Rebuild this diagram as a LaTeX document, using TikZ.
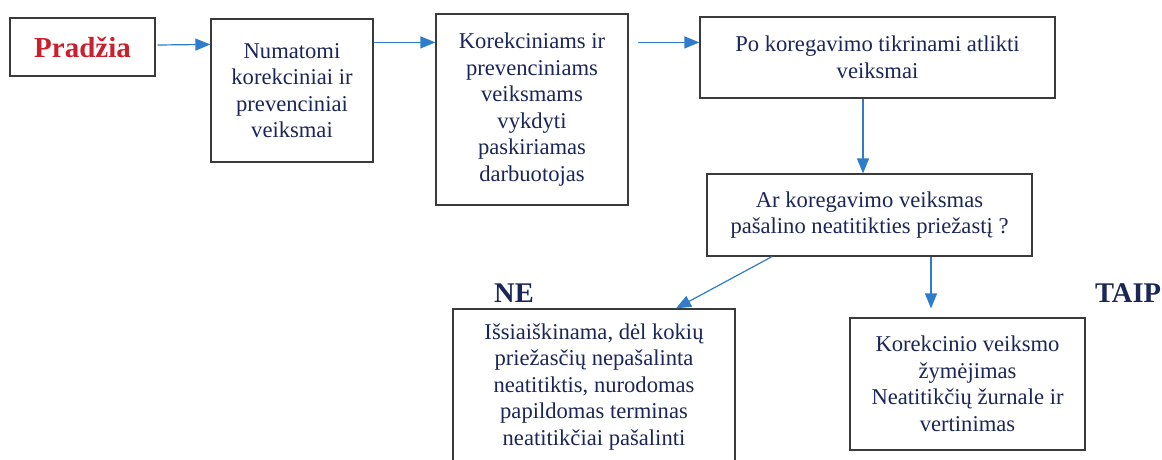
\documentclass[tikz,border=0pt]{standalone}
\usepackage{fontspec}
\setmainfont{Liberation Serif}
\usepackage{xcolor}
\usepackage{tikz}
\usetikzlibrary{shapes.geometric, arrows.meta}
\definecolor{inkblue}{HTML}{1B2658}
\definecolor{arrowblue}{HTML}{2F7CCB}
\definecolor{startred}{HTML}{CC1F2D}
\definecolor{boxgray}{HTML}{3A3A3A}
\tikzstyle{startstop} = [rectangle, 
draw=boxgray, 
line width=1.2pt, 
text centered, 
font=\bfseries\fontsize{29}{34}\selectfont, 
text=startred]
\tikzstyle{process} = [rectangle, 
draw=boxgray, 
line width=1.2pt, 
align=center, 
inner sep=0pt, 
font=\fontsize{22.6}{26.5}\selectfont, 
text=inkblue]
\tikzstyle{arrow} = [line width=1.2pt, draw=arrowblue, 
-{Triangle[length=15pt,width=12pt,fill=arrowblue]}]
\tikzstyle{answer} = [font=\bfseries\fontsize{28.5}{32}\selectfont, 
text=inkblue]

\begin{document}
\begin{tikzpicture}[x=1pt,y=-1pt]

\path[use as bounding box, fill=white] (0,0) rectangle (1162,459);
\clip (0,0) rectangle (1162,459);

\node (start) [startstop, minimum width=145pt, minimum height=58pt] at (82.5,47) {Pradžia};
\node (planned) [process, minimum width=162pt, minimum height=143pt] at (292,90.5) {Numatomi\\korekciniai ir\\prevenciniai\\veiksmai};
\node (assign) [process, minimum width=192pt, minimum height=191pt] at (532,109.5) {Korekciniams ir\\prevenciniams\\veiksmams\\vykdyti\\paskiriamas\\darbuotojas};
\node (check) [process, minimum width=355pt, minimum height=81pt] at (877.5,57.5) {Po koregavimo tikrinami atlikti\\veiksmai};
\node (decision) [process, minimum width=325pt, minimum height=82pt] at (869.5,215) {Ar koregavimo veiksmas\\pašalino neatitikties priežastį ?};
\node (not_removed) [process, minimum width=282pt, minimum height=156pt] at (594,387) {Išsiaiškinama, dėl kokių\\priežasčių nepašalinta\\neatitiktis, nurodomas\\papildomas terminas\\neatitikčiai pašalinti};
\node (record) [process, minimum width=235pt, minimum height=132pt] at (967.5,384) {Korekcinio veiksmo\\žymėjimas\\Neatitikčių žurnale ir\\vertinimas};

\node (no) [answer] at (514,293) {NE};
\node (yes) [answer] at (1128,293) {TAIP};

\draw [arrow] ([xshift=2pt,yshift=2pt]start.east) -- ([yshift=-26pt]planned.north west);
\draw [arrow] ([yshift=-24pt]planned.north east) -- ([yshift=-29pt]assign.north west);
\draw [arrow] ([xshift=9pt,yshift=-29pt]assign.north east) -- ([yshift=-26pt]check.north west);
\draw [arrow] ([xshift=-14.5pt]check.south) -- ([xshift=-6.5pt]decision.north);
\draw [arrow] ([xshift=-97.5pt]decision.south) -- ([xshift=82pt]not_removed.north);
\draw [arrow] ([xshift=61.5pt]decision.south) -- ([xshift=-36.5pt,yshift=9pt]record.north);

\end{tikzpicture}
\end{document}
